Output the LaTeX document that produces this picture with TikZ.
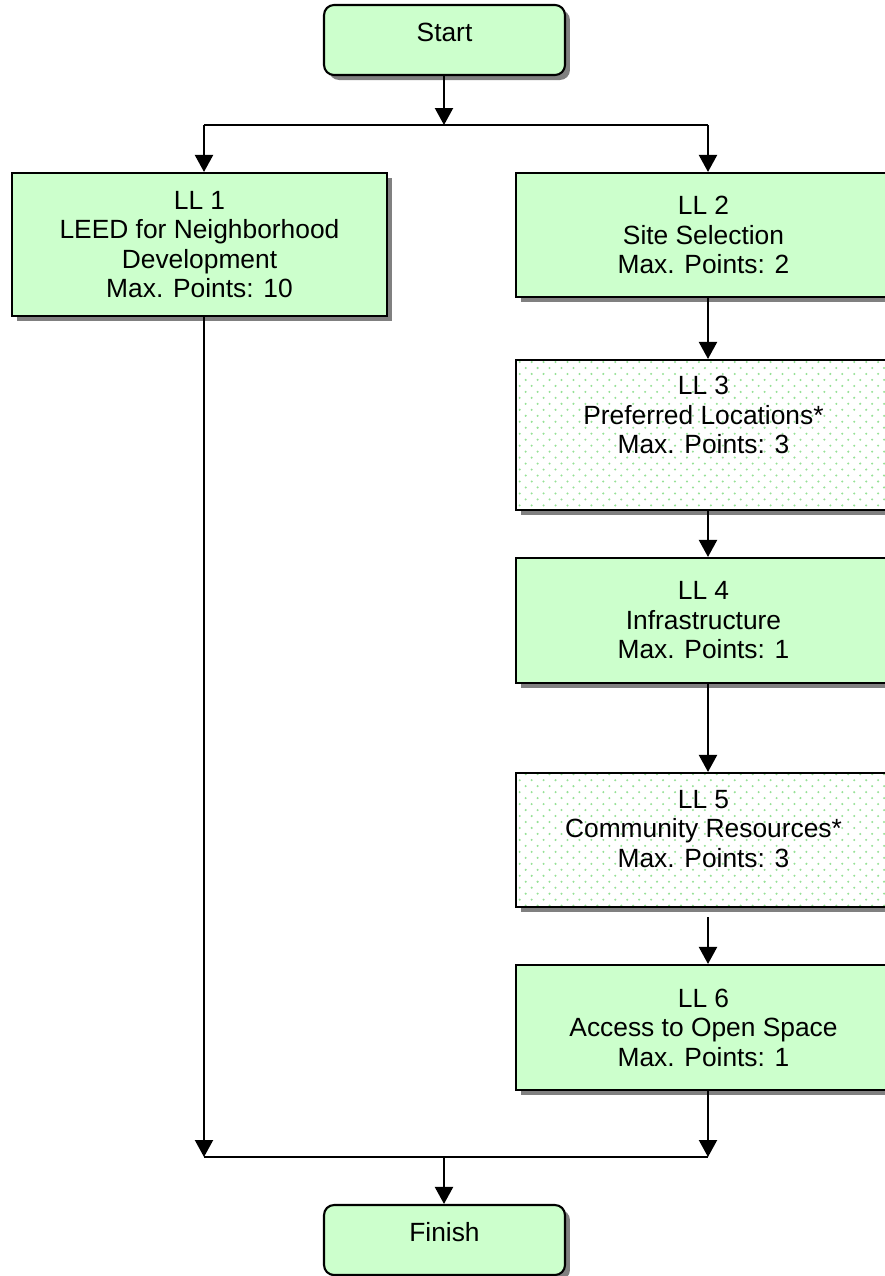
\documentclass[tikz,border=0pt]{standalone}
\usepackage{fontspec}
\setmainfont{Liberation Sans}
\usepackage{tikz}
\usetikzlibrary{calc}
\usetikzlibrary{positioning}
\usetikzlibrary{arrows.meta}
\usetikzlibrary{shadows}
\usetikzlibrary{patterns}
\definecolor{boxgreen}{RGB}{204,255,204}
\definecolor{dotgreen}{RGB}{150,225,150}
\definecolor{shadowgray}{RGB}{128,128,128}
\newcommand{\boxfont}{\fontsize{15pt}{16.8pt}\selectfont}
\pgfdeclarepatternformonly{lightdots}{\pgfqpoint{-1pt}{-1pt}}{\pgfqpoint{7pt}{7pt}}{\pgfqpoint{6.8pt}{6.8pt}}%
{
  \pgfpathcircle{\pgfqpoint{0pt}{0pt}}{0.65pt}
  \pgfpathcircle{\pgfqpoint{3.4pt}{3.4pt}}{0.65pt}
  \pgfusepath{fill}
}
\tikzset{
  myarrow/.style={
    draw=black,
    line width=1.2pt,
    -{Triangle[length=0.34cm,width=0.36cm]},
  },
  myline/.style={
    draw=black,
    line width=1.2pt,
  },
  basebox/.style={
    draw=black,
    shape=rectangle,
    line width=1.2pt,
    align=center,
    minimum width=7.5cm,
    general shadow={fill=shadowgray, shadow xshift=0.1cm, shadow yshift=-0.1cm},
    font=\boxfont
  },
  mybox/.style={
    basebox,
    fill=boxgreen
  },
  mydotted/.style={
    basebox,
    preaction={fill=white},
    pattern=lightdots,
    pattern color=dotgreen
  },
  myround/.style={
    mybox,
    rounded corners=0.2cm,
    minimum width=4.82cm,
    minimum height=1.4cm
  },
}

\begin{document}
\begin{tikzpicture}[x=0.02cm, y=-0.02cm]
    \useasboundingbox (0, 0) rectangle (885, 1276);

    \node [myround] (start) at (444.5, 40) {Start\\[-8pt]\mbox{}};

    \coordinate (splitL) at (204, 125);
    \coordinate (splitM) at (444, 125);
    \coordinate (splitR) at (708, 125);

    \node [mybox, minimum height=2.86cm] (LL1) at (199.5, 244.5) {LL 1\\LEED for Neighborhood\\Development\\Max. Points: 10};
    \node [mybox, minimum height=2.48cm] (LL2) at (703.5, 235) {LL 2\\Site Selection\\Max. Points: 2};
    \node [mydotted, minimum height=3cm] (LL3) at (703.5, 435) {LL 3\\Preferred Locations*\\Max. Points: 3\\[6pt]\mbox{}};
    \node [mybox, minimum height=2.5cm] (LL4) at (703.5, 620.5) {LL 4\\Infrastructure\\Max. Points: 1};
    \node [mydotted, minimum height=2.68cm] (LL5) at (703.5, 840) {LL 5\\Community Resources*\\Max. Points: 3\\[-4pt]\mbox{}};
    \node [mybox, minimum height=2.5cm] (LL6) at (703.5, 1027.5) {LL 6\\Access to Open Space\\Max. Points: 1};

    \coordinate (joinL) at (204, 1157);
    \coordinate (joinM) at (444, 1157);
    \coordinate (joinR) at (708, 1157);

    \node [myround] (finish) at (444.5, 1240) {Finish\\[-8pt]\mbox{}};

    \draw [myarrow] (start.south -| splitM) -- (splitM);
    \draw [myline] (splitL) -- (splitR);
    \draw [myarrow] (splitL) -- (splitL |- LL1.north);
    \draw [myarrow] (splitR) -- (splitR |- LL2.north);

    \draw [myarrow] (LL2.south -| splitR) -- (LL3.north -| splitR);
    \draw [myarrow] (LL3.south -| splitR) -- (LL4.north -| splitR);
    \draw [myarrow] (LL4.south -| splitR) -- (LL5.north -| splitR);
    \draw [myarrow, shorten <=0.18cm] (LL5.south -| splitR) -- (LL6.north -| splitR);

    \draw [myarrow] (LL1.south -| joinL) -- (joinL);
    \draw [myarrow] (LL6.south -| joinR) -- (joinR);
    \draw [myline] (joinL) -- (joinR);
    \draw [myarrow] (joinM) -- (finish.north -| joinM);

  \end{tikzpicture}
\end{document}
